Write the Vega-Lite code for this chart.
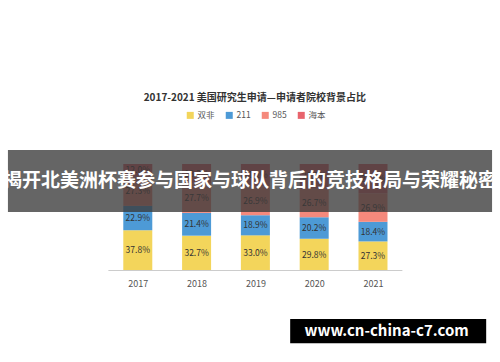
{
  "$schema": "https://vega.github.io/schema/vega-lite/v6.json",
  "width": 500,
  "height": 362,
  "autosize": {"type": "none"},
  "padding": 0,
  "background": "white",
  "config": {"view": {"stroke": null}, "font": "Noto Sans CJK SC"},
  "layer": [
    {
      "data": {"values": [
        {"year": 2017, "cat": "双非", "k": 1, "v": 37.8},
        {"year": 2017, "cat": "211", "k": 2, "v": 22.9},
        {"year": 2017, "cat": "985", "k": 3, "v": 27.3},
        {"year": 2017, "cat": "海本", "k": 4, "v": 12.0},
        {"year": 2018, "cat": "双非", "k": 1, "v": 32.7},
        {"year": 2018, "cat": "211", "k": 2, "v": 21.4},
        {"year": 2018, "cat": "985", "k": 3, "v": 27.7},
        {"year": 2018, "cat": "海本", "k": 4, "v": 18.2},
        {"year": 2019, "cat": "双非", "k": 1, "v": 33.0},
        {"year": 2019, "cat": "211", "k": 2, "v": 18.9},
        {"year": 2019, "cat": "985", "k": 3, "v": 26.9},
        {"year": 2019, "cat": "海本", "k": 4, "v": 21.2},
        {"year": 2020, "cat": "双非", "k": 1, "v": 29.8},
        {"year": 2020, "cat": "211", "k": 2, "v": 20.2},
        {"year": 2020, "cat": "985", "k": 3, "v": 26.7},
        {"year": 2020, "cat": "海本", "k": 4, "v": 23.3},
        {"year": 2021, "cat": "双非", "k": 1, "v": 27.3},
        {"year": 2021, "cat": "211", "k": 2, "v": 18.4},
        {"year": 2021, "cat": "985", "k": 3, "v": 26.9},
        {"year": 2021, "cat": "海本", "k": 4, "v": 27.4}
      ]},
      "transform": [
        {"stack": "v", "groupby": ["year"], "sort": [{"field": "k", "order": "ascending"}], "as": ["y0", "y1"]},
        {"calculate": "(datum.y0 + datum.y1) / 2", "as": "ym"},
        {"calculate": "format(datum.v, '.1f') + '%'", "as": "lab"}
      ],
      "layer": [
        {
          "mark": {"type": "bar", "width": 29},
          "encoding": {
            "x": {
              "field": "year", "type": "quantitative",
              "scale": {"domain": [2014.7417, 2023.075], "nice": false, "zero": false},
              "axis": {
                "values": [2017, 2018, 2019, 2020, 2021], "format": "d",
                "domain": false, "ticks": false, "grid": false, "title": null,
                "offset": -91.5, "labelPadding": 9, "labelFontSize": 9,
                "labelColor": "#555555"
              }
            },
            "y": {
              "field": "y0", "type": "quantitative",
              "scale": {"domain": [-85.92, 253.99], "nice": false, "zero": false},
              "axis": null
            },
            "y2": {"field": "y1"},
            "color": {
              "field": "cat", "type": "nominal",
              "scale": {"domain": ["双非", "211", "985", "海本"], "range": ["#f3d55b", "#4d9ad6", "#f5897c", "#e8646c"]},
              "legend": {
                "orient": "none", "legendX": 186, "legendY": 111, "direction": "horizontal",
                "title": null, "symbolType": "square", "symbolSize": 49, "symbolStrokeWidth": 0,
                "labelFontSize": 8.5, "labelColor": "#555555", "columnPadding": 10, "labelOffset": 3
              }
            }
          }
        },
        {
          "mark": {"type": "text", "fontSize": 8.5, "color": "#333333", "baseline": "middle"},
          "encoding": {
            "x": {"field": "year", "type": "quantitative"},
            "y": {"field": "ym", "type": "quantitative"},
            "text": {"field": "lab"}
          }
        }
      ]
    },
    {
      "data": {"values": [{}]},
      "mark": {"type": "rule", "color": "#cccccc", "strokeWidth": 1},
      "encoding": {
        "x": {"datum": 2016.5, "type": "quantitative"},
        "x2": {"datum": 2021.5},
        "y": {"datum": 0, "type": "quantitative"}
      }
    },
    {
      "data": {"values": [{}]},
      "mark": {"type": "text", "text": "2017-2021 美国研究生申请—申请者院校背景占比", "fontSize": 10, "fontWeight": "bold", "color": "#333333", "baseline": "middle", "align": "center"},
      "encoding": {
        "x": {"datum": 2018.99, "type": "quantitative"},
        "y": {"datum": 162, "type": "quantitative"}
      }
    },
    {
      "data": {"values": [{}]},
      "mark": {"type": "rect", "fill": "#3a3a3a", "opacity": 0.78},
      "encoding": {
        "x": {"datum": 2014.7917, "type": "quantitative"},
        "x2": {"datum": 2023.025},
        "y": {"datum": 113.15, "type": "quantitative"},
        "y2": {"datum": 54.93}
      }
    },
    {
      "data": {"values": [{}]},
      "mark": {"type": "text", "text": "揭开北美洲杯赛参与国家与球队背后的竞技格局与荣耀秘密", "fontSize": 19, "fontWeight": "bold", "color": "white", "baseline": "middle", "align": "center"},
      "encoding": {
        "x": {"datum": 2018.9083, "type": "quantitative"},
        "y": {"datum": 84.04, "type": "quantitative"}
      }
    },
    {
      "data": {"values": [{}]},
      "mark": {"type": "rect", "fill": "black"},
      "encoding": {
        "x": {"datum": 2019.5917, "type": "quantitative"},
        "x2": {"datum": 2022.925},
        "y": {"datum": -45.54, "type": "quantitative"},
        "y2": {"datum": -68.36}
      }
    },
    {
      "data": {"values": [{}]},
      "mark": {"type": "text", "text": "www.cn-china-c7.com", "fontSize": 15, "fontWeight": "bold", "color": "white", "baseline": "middle", "align": "center"},
      "encoding": {
        "x": {"datum": 2021.2333, "type": "quantitative"},
        "y": {"datum": -56.81, "type": "quantitative"}
      }
    }
  ]
}
